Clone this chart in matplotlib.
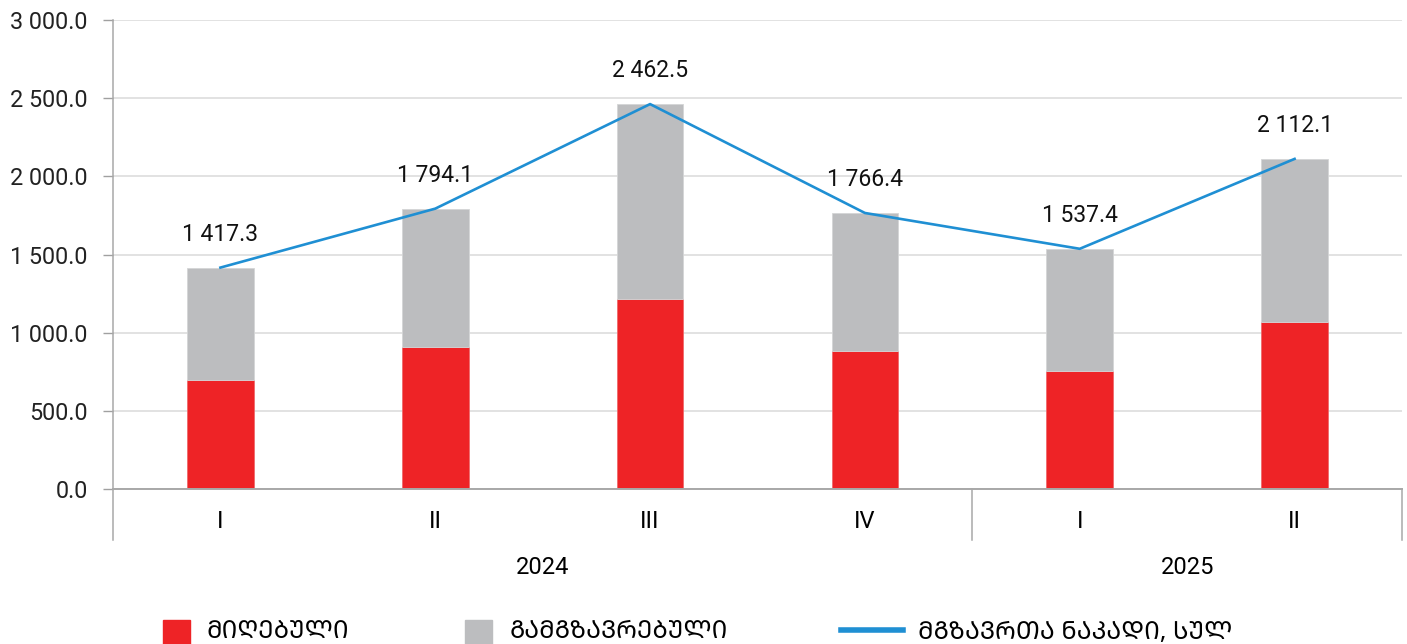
import matplotlib
matplotlib.use('Agg')
import matplotlib.pyplot as plt
from matplotlib.patches import Rectangle
from matplotlib.lines import Line2D
from matplotlib.ticker import FuncFormatter

# data
quarters = ['I', 'II', 'III', 'IV', 'I', 'II']
years = ['2024', '2025']
year_sizes = [4, 2]
arrived = [699, 912, 1215, 885, 757, 1068]
totals = [1417.3, 1794.1, 2462.5, 1766.4, 1537.4, 2112.1]
departed = [t - a for t, a in zip(totals, arrived)]
legend_labels = ['ᲛᲘᲦᲔᲑᲣᲚᲘ', 'ᲒᲐᲛᲒᲖᲐᲕᲠᲔᲑᲣᲚᲘ', 'ᲛᲒᲖᲐᲕᲠᲗᲐ ᲜᲐᲙᲐᲓᲘ, ᲡᲣᲚ']

red = '#ee2326'
grey = '#bcbdbf'
blue = '#1f8fd3'
georgian = ['Noto Sans Georgian', 'DejaVu Sans']

plt.rcParams['font.family'] = ['Roboto', 'Noto Sans Georgian', 'DejaVu Sans']

fig = plt.figure(figsize=(14.07, 6.44), dpi=100)
W, H = 1407, 644
ax = fig.add_axes([113 / W, 1 - 489.3 / H, 1289 / W, 469.3 / H])

x = list(range(len(quarters)))
ax.bar(x, arrived, width=0.31, color=red, edgecolor='#f06a6c', linewidth=0.6, zorder=2)
ax.bar(x, departed, width=0.31, bottom=arrived, color=grey, edgecolor='#d4d5d6', linewidth=0.6, zorder=2)
ax.plot(x, totals, color=blue, linewidth=1.9, zorder=3)

# value labels over the line
for xi, t in zip(x, totals):
    s = '{:,.1f}'.format(t).replace(',', ' ')
    ax.annotate(s, (xi, t), xytext=(0, 24), textcoords='offset points',
                ha='center', va='center', fontsize=16.5, color='#111111')

# axes scaling
ax.set_xlim(-0.5, len(quarters) - 0.5)
ax.set_ylim(0, 3000)
ax.set_yticks(range(0, 3001, 500))
ax.yaxis.set_major_formatter(FuncFormatter(lambda v, p: '{:,.1f}'.format(v).replace(',', ' ')))
ax.tick_params(axis='y', length=7, width=1, color='#a0a0a0', pad=11, labelsize=16.8, labelcolor='#222222')
ax.set_xticks(x)
ax.set_xticklabels(quarters, fontsize=17)
ax.tick_params(axis='x', length=0, pad=15)

# grid
ax.yaxis.grid(True, color='#e2e2e2', linewidth=1.4, zorder=0)
ax.set_axisbelow(True)
for side in ['top', 'right']:
    ax.spines[side].set_visible(False)
ax.spines['bottom'].set_color('#a8a8a8')
ax.spines['bottom'].set_linewidth(1.4)
ax.spines['left'].set_visible(False)

# year group separators and labels
trans = ax.get_xaxis_transform()
start = -0.5
bounds = [start]
for n in year_sizes:
    bounds.append(bounds[-1] + n)
for b in bounds:
    top = 1 if b == start else 0
    ax.plot([b, b], [top, -0.109], transform=trans, color='#a8a8a8', linewidth=1.1, clip_on=False)
for i, yr in enumerate(years):
    ax.text((bounds[i] + bounds[i + 1]) / 2, -0.166, yr, transform=trans,
            ha='center', va='center', fontsize=17)

# legend drawn along the bottom edge
ty = 1 - 632 / H
fig.add_artist(Rectangle((163 / W, 1 - 650 / H), 27 / W, 30 / H, color=red, transform=fig.transFigure))
fig.add_artist(Rectangle((465 / W, 1 - 650 / H), 27 / W, 30 / H, color=grey, transform=fig.transFigure))
fig.add_artist(Line2D([841 / W, 903 / W], [1 - 630 / H, 1 - 630 / H], color=blue, linewidth=4, transform=fig.transFigure))
for lx, lab in zip([207, 510, 918], legend_labels):
    fig.text(lx / W, ty, lab, ha='left', va='center', family=georgian, fontsize=17.8)

fig.savefig('out.png', dpi=100)
